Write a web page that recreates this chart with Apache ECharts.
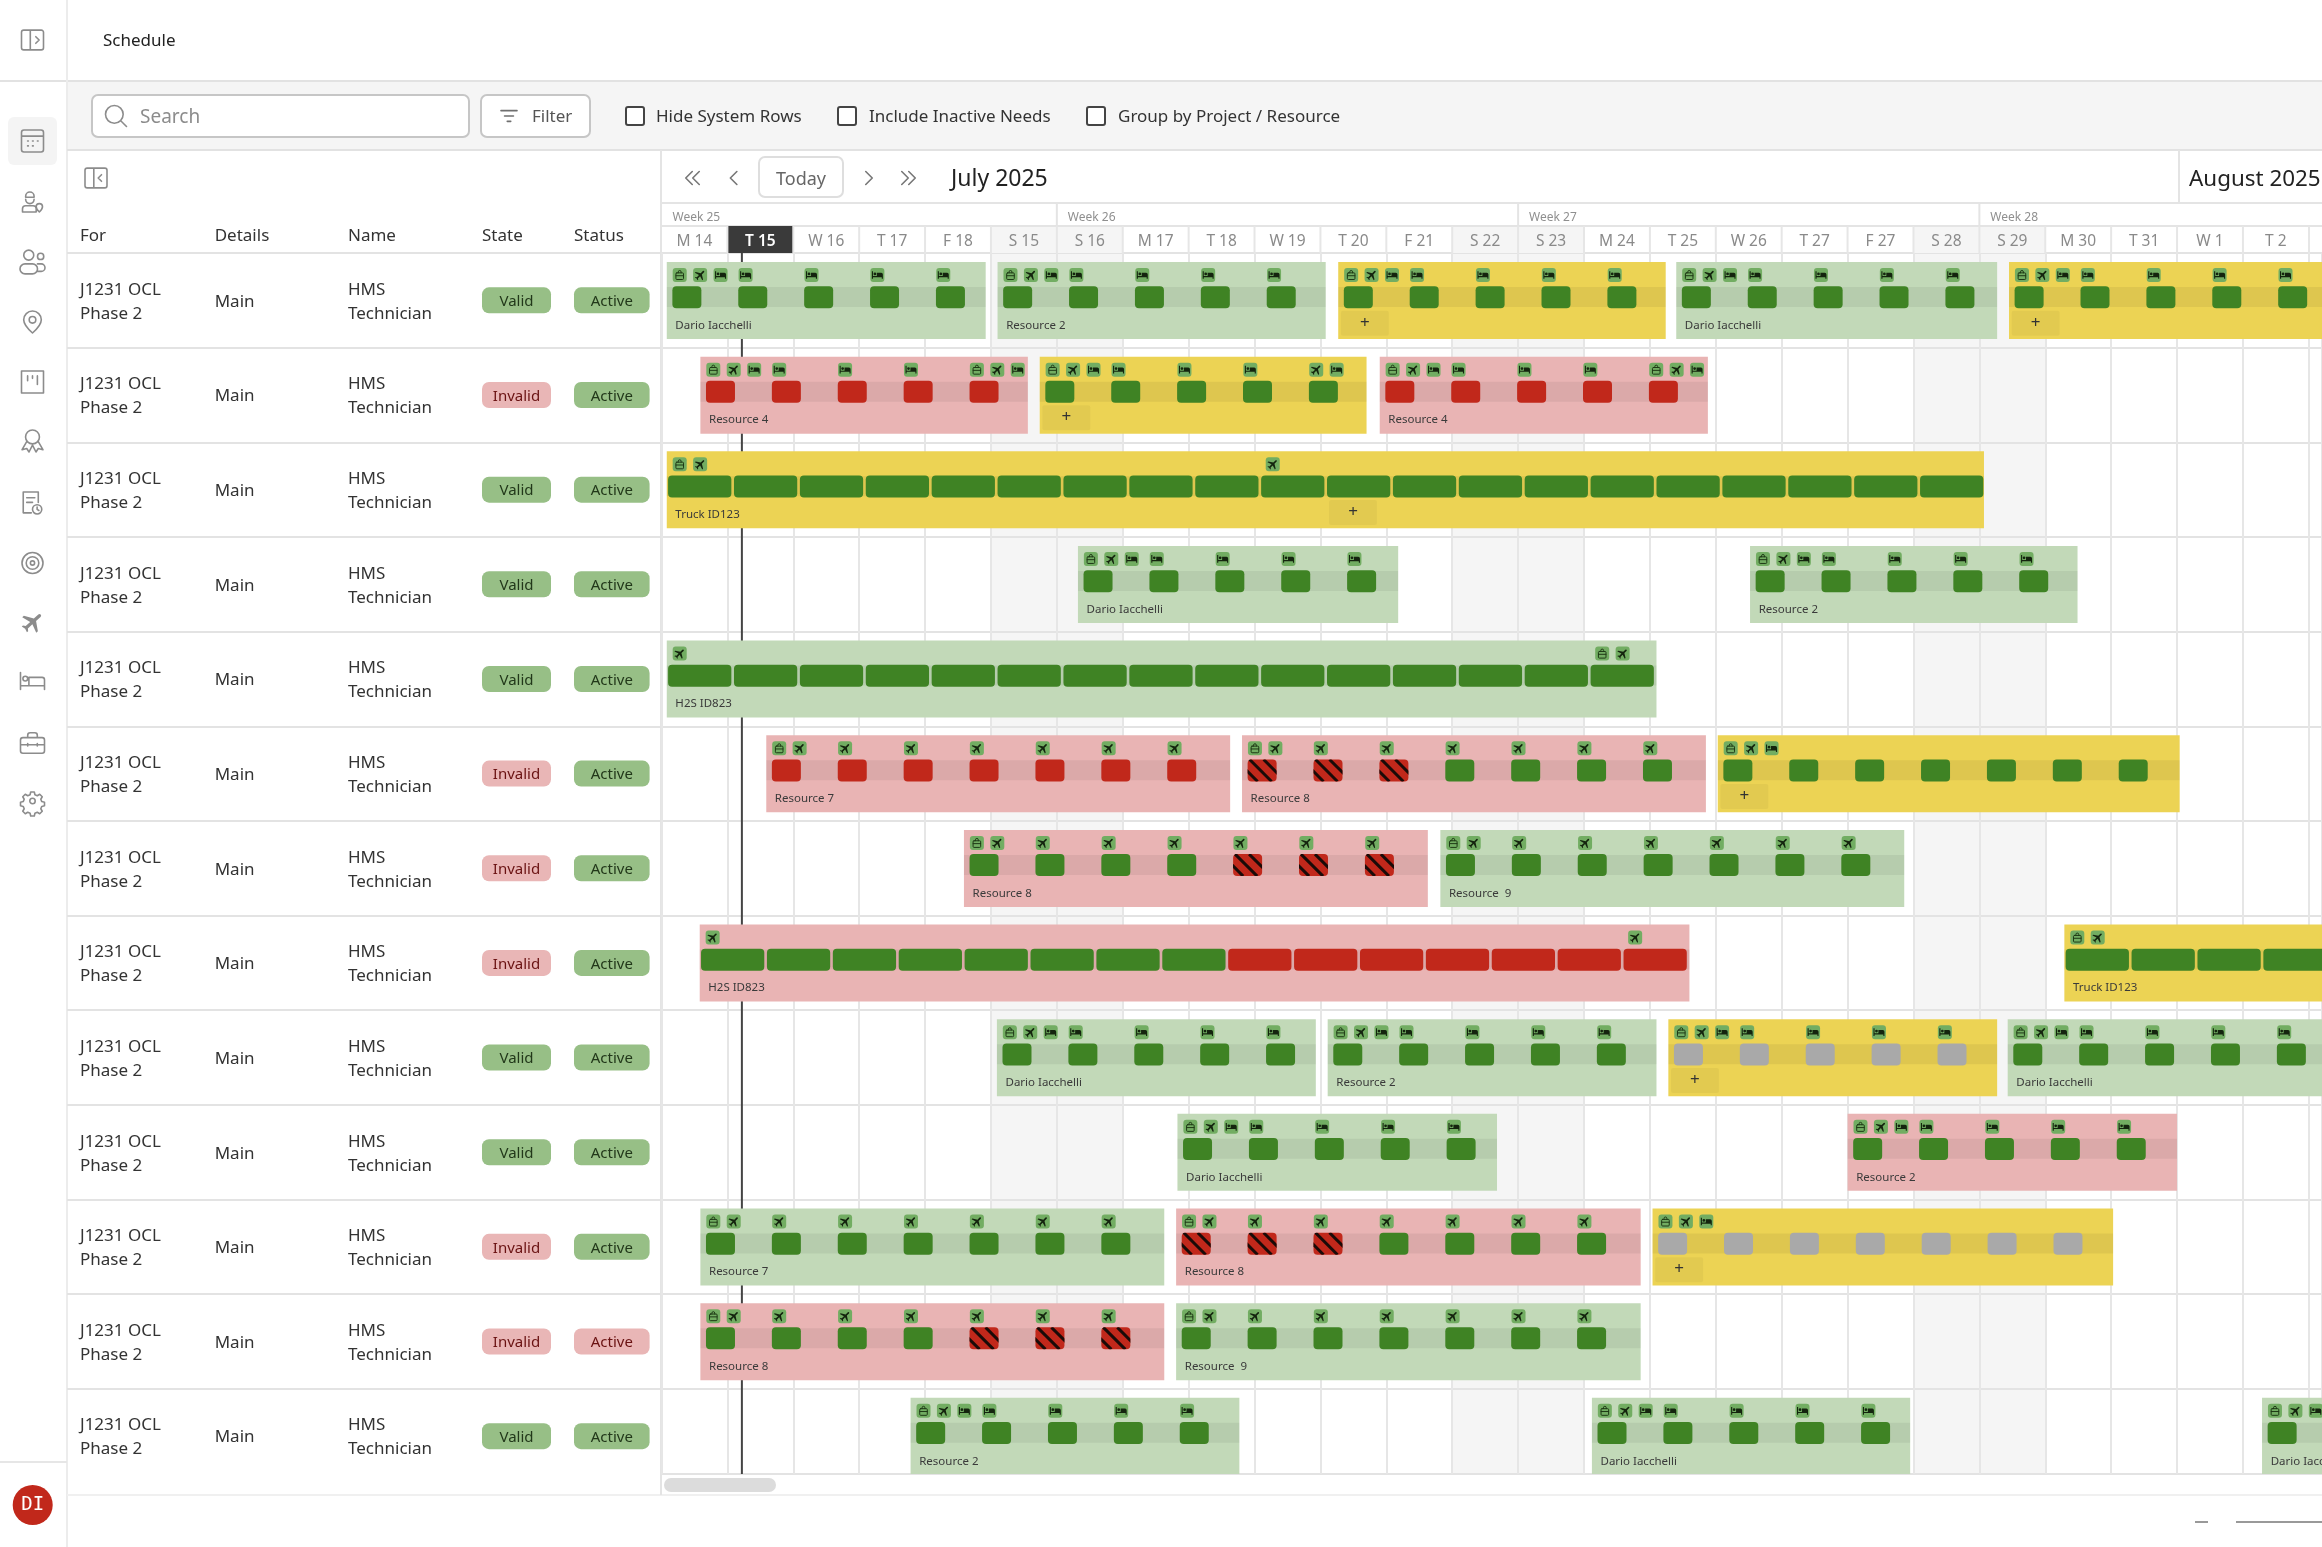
<!DOCTYPE html>
<html>
<head>
<meta charset="utf-8">
<title>Schedule</title>
<style>
  html, body { margin: 0; padding: 0; background: #fff; }
  #main { width: 2322px; height: 1547px; }
</style>
<script src="https://cdn.jsdelivr.net/npm/echarts@6/dist/echarts.min.js"></script>
</head>
<body>
<div id="main"></div>
<script>
// timeline
var dayLabels = ['M 14','T 15','W 16','T 17','F 18','S 15','S 16','M 17','T 18','W 19','T 20','F 21','S 22','S 23','M 24','T 25','W 26','T 27','F 27','S 28','S 29','M 30','T 31','W 1','T 2'];
var weekendDays = [5, 6, 12, 13, 19, 20];
var weekLabels = ['Week 25', 'Week 26', 'Week 27', 'Week 28'];
var weekStarts = [0, 6, 13, 20];
var todayIndex = 1;
var todayLine = 1.22;

// table
var tableHeaders = ['For', 'Details', 'Name', 'State', 'Status'];
var rowState = ['Valid','Invalid','Valid','Valid','Valid','Invalid','Invalid','Invalid','Valid','Valid','Invalid','Invalid','Valid'];
var rowStatus = ['Active','Active','Active','Active','Active','Active','Active','Active','Active','Active','Active','Active','Active'];
var rowStatusBad = [11];

// gantt bars, one entry per bar in all the arrays below
var barRow   = [0,0,0,0,0, 1,1,1, 2, 3,3, 4, 5,5,5, 6,6, 7,7, 8,8,8,8, 9,9, 10,10,10, 11,11, 12,12,12];
var barStart = [0.08,5.1,10.27,15.4,20.45, 0.59,5.74,10.9, 0.08, 6.32,16.52, 0.08, 1.59,8.81,16.03, 4.59,11.82, 0.58,21.29, 5.09,10.11,15.28,20.43, 7.83,18.0, 0.59,7.81,15.04, 0.59,7.81, 3.78,14.12,24.29];
var barEnd   = [4.92,10.08,15.24,20.27,25.5, 5.56,10.7,15.88, 20.07, 11.18,21.49, 15.1, 8.63,15.85,23.04, 11.63,18.86, 15.6,26.5, 9.93,15.1,20.27,25.3, 12.68,23.0, 7.63,14.86,22.03, 7.63,14.86, 8.77,18.95,29.3];
var barTone  = ['g','g','y','g','y', 'r','y','r', 'y', 'g','g', 'g', 'r','r','y', 'r','g', 'r','y', 'g','g','y','g', 'g','r', 'g','r','y', 'r','g', 'g','g','g'];
var barName  = ['Dario Iacchelli','Resource 2','','Dario Iacchelli','', 'Resource 4','','Resource 4', 'Truck ID123', 'Dario Iacchelli','Resource 2', 'H2S ID823', 'Resource 7','Resource 8','', 'Resource 8','Resource  9', 'H2S ID823','Truck ID123', 'Dario Iacchelli','Resource 2','','Dario Iacchelli', 'Dario Iacchelli','Resource 2', 'Resource 7','Resource 8','', 'Resource 8','Resource  9', 'Resource 2','Dario Iacchelli','Dario Iacchelli'];
var barAdd   = [-1,-1,0.04,-1,0.04, -1,0.04,-1, 10.05, -1,-1, -1, -1,-1,0.04, -1,-1, -1,-1, -1,-1,0.04,-1, -1,-1, -1,-1,0.04, -1,-1, -1,-1,-1];
var barLong  = [0,0,0,0,0, 0,0,0, 1, 0,0, 1, 0,0,0, 0,0, 1,1, 0,0,0,0, 0,0, 0,0,0, 0,0, 0,0,0];
// g green, r red, h hatched, s grey
var barCells = ['ggggg','ggggg','ggggg','ggggg','ggggg', 'rrrrr','ggggg','rrrrr', 'gggggggggggggggggggg', 'ggggg','ggggg', 'ggggggggggggggg', 'rrrrrrr','hhhgggg','ggggggg', 'gggghhh','ggggggg', 'ggggggggrrrrrrr','ggggg', 'ggggg','ggggg','sssss','ggggg', 'ggggg','ggggg', 'ggggggg','hhhgggg','sssssss', 'gggghhh','ggggggg', 'ggggg','ggggg','ggggg'];
// per cell, comma separated: b bag, p plane, d bed
var std5 = 'bpd,d,d,d,d', std7 = 'bp,p,p,p,p,p,p';
var barIcons = [std5,std5,std5,std5,std5, 'bpd,d,d,d,bpd','bpd,d,d,d,pd','bpd,d,d,d,bpd', 'bp,,,,,,,,,p', std5,std5, 'p,,,,,,,,,,,,,,bp', std7,std7,'bpd', std7,std7, 'p,,,,,,,,,,,,,,p','bp', std5,std5,std5,std5, std5,std5, std7,std7,'bpd', std7,std7, std5,std5,std5];

var font = '"Noto Sans", "Open Sans", sans-serif';
var toneFill = { g: '#c2d9b8', r: '#e9b4b4', y: '#ecd354' };
var cellFill = { g: '#3f8324', r: '#c1281b', h: '#c1281b', s: '#a9a9a9' };
var iconPath = {
  b: 'M9 7V5a3 3 0 0 1 6 0v2 M6 7h12a2 2 0 0 1 2 2v10a2 2 0 0 1-2 2H6a2 2 0 0 1-2-2V9a2 2 0 0 1 2-2z M4 13h16',
  p: 'M21 16v-2l-8-5V3.5a1.5 1.5 0 0 0-3 0V9l-8 5v2l8-2.5V19l-2 1.5V22l3.5-1 3.5 1v-1.5L13 19v-5.5z',
  d: 'M2 5v14h2v-3h16v3h2v-8a3 3 0 0 0-3-3h-8v6H4V5z M5 10a2.5 2.5 0 1 0 5 0a2.5 2.5 0 1 0-5 0z'
};

function txt(text, x, y, size, color, align, weight, family) {
  return { type: 'text', style: { text: text, x: x, y: y + 1.5, fontSize: size, fill: color, align: align || 'left', verticalAlign: 'middle', fontWeight: weight || 'normal', fontFamily: family || font } };
}
function box(x, y, w, h, fill, r, stroke, lw) {
  return { type: 'rect', shape: { x: x, y: y, width: w, height: h, r: r || 0 }, style: { fill: fill, stroke: stroke || null, lineWidth: lw || 0 } };
}
function seg(x1, y1, x2, y2, color, w) {
  return { type: 'line', shape: { x1: x1, y1: y1, x2: x2, y2: y2 }, style: { stroke: color, lineWidth: w || 2 } };
}
function glyph(d, cx, cy, size, opt) {
  opt = opt || {};
  var el = {
    type: 'path',
    shape: { pathData: d, layout: 'center', x: cx - size / 2, y: cy - size / 2, width: size, height: size },
    style: { fill: opt.fill || 'none', stroke: opt.stroke || null, lineWidth: opt.lw || 0, lineCap: 'round', lineJoin: 'round' }
  };
  if (opt.rot) { el.rotation = opt.rot; el.originX = cx; el.originY = cy; }
  return el;
}

var railColor = '#8c8c8c';
var railIcons = [
  ['M5 3h14a2 2 0 0 1 2 2v14a2 2 0 0 1-2 2H5a2 2 0 0 1-2-2V5a2 2 0 0 1 2-2z M3 8h18 M8 12h.6 M12 12h.6 M16 12h.6 M8 16h.6 M12 16h.6', 141, 22],
  ['M9 3a4 4 0 0 1 4 4v1H5V7a4 4 0 0 1 4-4z M5 10a4 4 0 0 0 8 0 M2 22v-3a3 3 0 0 1 3-3h7a3 3 0 0 1 3 3v3z M18 14a3 3 0 0 1 3 3c0 2-3 5-3 5s-3-3-3-5a3 3 0 0 1 3-3z', 202, 20],
  ['M5 6a4 4 0 1 0 8 0a4 4 0 1 0-8 0z M16 7a2.5 2.5 0 1 0 5 0a2.5 2.5 0 1 0-5 0z M6 13h6a4 4 0 0 1 0 8H6a4 4 0 0 1 0-8z M16 13h3a3 3 0 0 1 3 3v0a3 3 0 0 1-3 3h-3', 262, 25],
  ['M12 2a8 8 0 0 1 8 8c0 5-8 12-8 12s-8-7-8-12a8 8 0 0 1 8-8z M9 10a3 3 0 1 0 6 0a3 3 0 1 0-6 0z', 322, 22],
  ['M3 3h18v18H3z M8 7v4 M12 7v2 M16 7v7', 382, 22],
  ['M6 9a6 6 0 1 0 12 0a6 6 0 1 0-12 0z M7 13l-4 7 4-1 2 3 3-6 3 6 2-3 4 1-4-7', 441, 22],
  ['M5 21V3h13v9 M5 21h7 M8 8h7 M8 12h5 M13 18a4 4 0 1 0 8 0a4 4 0 1 0-8 0z M17 16v2l1.5 1', 503, 22],
  ['M2 12a10 10 0 1 0 20 0a10 10 0 1 0-20 0z M6 12a6 6 0 1 0 12 0a6 6 0 1 0-12 0z M10 12a2 2 0 1 0 4 0a2 2 0 1 0-4 0z', 563, 21],
  ['P', 622, 22],
  ['M2 6v14 M2 17h20v3 M22 17v-5a2 2 0 0 0-2-2H9v7 M4 11a2 2 0 1 0 4 0a2 2 0 1 0-4 0z', 681, 24],
  ['M4 8h16a2 2 0 0 1 2 2v9a2 2 0 0 1-2 2H4a2 2 0 0 1-2-2v-9a2 2 0 0 1 2-2z M8 8V6a2 2 0 0 1 2-2h4a2 2 0 0 1 2 2v2 M2 14h20 M8 13v2 M16 13v2', 743, 24],
  ['M9 12a3 3 0 1 0 6 0a3 3 0 1 0-6 0z M10 2h4l.7 3 2.6 1.1 2.7-1.6 2.8 2.8-1.6 2.7 1.1 2.6 3 .7v4l-3 .7-1.1 2.6 1.6 2.7-2.8 2.8-2.7-1.6-2.6 1.1-.7 3h-4l-.7-3-2.6-1.1-2.7 1.6-2.8-2.8 1.6-2.7-1.1-2.6-3-.7v-4l3-.7 1.1-2.6-1.6-2.7 2.8-2.8 2.7 1.6 2.6-1.1z', 804, 24]
];
var panelRight = 'M4 3h16a2 2 0 0 1 2 2v14a2 2 0 0 1-2 2H4a2 2 0 0 1-2-2V5a2 2 0 0 1 2-2z M10 3v18 M15 9l3 3-3 3';
var panelLeft = 'M4 3h16a2 2 0 0 1 2 2v14a2 2 0 0 1-2 2H4a2 2 0 0 1-2-2V5a2 2 0 0 1 2-2z M10 3v18 M17 9l-3 3 3 3';
var chevL = 'M15 5l-7 7 7 7';
var chevR = 'M9 5l7 7-7 7';

// static page furniture around the chart
function renderChrome() {
  var c = [];
  c.push(box(67, 81, 2255, 69, '#f5f5f5'));
  c.push(box(8, 117, 49, 48, '#f4f4f4', 6));
  c.push(seg(0, 81, 2322, 81, '#e2e2e2', 2));
  c.push(seg(67, 0, 67, 1547, '#ececec', 2));
  c.push(seg(67, 150, 2322, 150, '#e2e2e2', 2));
  c.push(seg(0, 1462, 67, 1462, '#e6e6e6', 2));
  c.push(seg(67, 1495, 2322, 1495, '#f0f0f0', 2));
  c.push(seg(661, 150, 661, 1495, '#e4e4e4', 2));
  c.push(seg(662, 203, 2322, 203, '#e4e4e4', 2));
  c.push(seg(2179, 150, 2179, 203, '#e4e4e4', 2));
  c.push(glyph(panelRight, 32.5, 40, 22, { stroke: railColor, lw: 1.6 }));
  c.push(glyph(panelLeft, 96, 178, 22, { stroke: railColor, lw: 1.6 }));
  railIcons.forEach(function (ic) {
    if (ic[0] === 'P') c.push(glyph(iconPath.p, 32.5, ic[1], ic[2], { fill: railColor, rot: -Math.PI / 4 - 0.05 }));
    else c.push(glyph(ic[0], 32.5, ic[1], ic[2], { stroke: railColor, lw: 1.6 }));
  });
  c.push({ type: 'circle', shape: { cx: 32.7, cy: 1505, r: 20 }, style: { fill: '#c1281b' } });
  c.push(txt('DI', 32.7, 1504, 19, '#ffffff', 'center', 'normal', '"DejaVu Sans Mono", monospace'));

  c.push(txt('Schedule', 103, 40, 17, '#222222'));
  c.push(box(92, 95, 377, 42, '#ffffff', 6, '#c6c6c6', 2));
  c.push(glyph('M3 11a8 8 0 1 0 16 0a8 8 0 1 0-16 0z M17 17l5 5', 116, 116, 21, { stroke: '#8c8c8c', lw: 1.6 }));
  c.push(txt('Search', 140, 116, 19, '#8c8c8c'));
  c.push(box(481, 95, 109, 42, '#ffffff', 6, '#c6c6c6', 2));
  c.push(glyph('M3 6h18 M7 12h10 M10 18h4', 509, 116, 16, { stroke: '#6f6f6f', lw: 1.6 }));
  c.push(txt('Filter', 532, 116, 17, '#555555'));
  [[625, 'Hide System Rows', 656], [837, 'Include Inactive Needs', 869], [1086, 'Group by Project / Resource', 1118]].forEach(function (k) {
    c.push(box(k[0] + 1, 107, 18, 18, '#ffffff', 2, '#444444', 2));
    c.push(txt(k[1], k[2], 116, 17, '#333333'));
  });

  var nav = { stroke: '#777777', lw: 1.6 };
  c.push(glyph(chevL, 689, 178, 13, nav));
  c.push(glyph(chevL, 696, 178, 13, nav));
  c.push(glyph(chevL, 733.6, 178, 13, nav));
  c.push(box(759, 157, 84, 40, '#ffffff', 6, '#dedede', 2));
  c.push(txt('Today', 801, 178, 18, '#666666', 'center'));
  c.push(glyph(chevR, 869, 178, 13, nav));
  c.push(glyph(chevR, 905, 178, 13, nav));
  c.push(glyph(chevR, 912, 178, 13, nav));
  c.push(txt('July 2025', 951, 178, 23, '#222222'));
  c.push(txt('August 2025', 2189, 178, 22.4, '#222222'));

  c.push(box(664, 1478, 112, 14, '#dcdcdc', 7));
  c.push(seg(2195, 1522, 2208, 1522, '#999999', 2));
  c.push(seg(2236, 1522, 2322, 1522, '#999999', 2));
  return { type: 'group', children: c };
}

function renderWeekend(params, api) {
  var a = api.coord([api.value(0), 0]);
  var b = api.size([1, 0]);
  return box(a[0], a[1], b[0], 1300, '#f5f5f5');
}

function renderHeader(params, api) {
  var kids = [];
  var y0 = api.coord([0, 0])[1];
  var w = api.size([1, 0])[0];
  weekendDays.forEach(function (d) { kids.push(box(api.coord([d, 0])[0], y0 - 27, w, 27, '#f5f5f5')); });
  kids.push(seg(662, y0 - 27, 2322, y0 - 27, '#e4e4e4', 2));
  dayLabels.forEach(function (label, i) {
    var x = api.coord([i, 0])[0];
    if (i === todayIndex) kids.push(box(x, y0 - 27, w, 27, '#3a3a3a'));
    if (i > 0) kids.push(seg(x, y0 - 27, x, y0, '#e6e6e6', 2));
    kids.push(txt(label, x + w / 2, y0 - 13, 15.5, i === todayIndex ? '#ffffff' : '#8a8a8a', 'center', i === todayIndex ? 600 : 'normal'));
  });
  weekLabels.forEach(function (label, i) {
    var x = api.coord([weekStarts[i], 0])[0];
    if (i > 0) kids.push(seg(x, y0 - 50, x, y0 - 27, '#e4e4e4', 2));
    kids.push(txt(label, x + 11, y0 - 37, 12, '#8f8f8f'));
  });
  kids.push(seg(2309, y0 - 27, 2309, y0, '#e6e6e6', 2));
  return { type: 'group', children: kids };
}

function renderToday(params, api) {
  var a = api.coord([api.value(0), 0]);
  var b = api.coord([api.value(0), 12.9]);
  return seg(a[0], a[1], b[0], b[1], '#444444', 2);
}

function renderBar(params, api) {
  var i = api.value(3);
  var s = api.coord([barStart[i], barRow[i]]);
  var e = api.coord([barEnd[i], barRow[i]]);
  var day = api.size([1, 0])[0];
  var top = s[1] + 9;
  var kids = [box(s[0], top, e[0] - s[0], 77, toneFill[barTone[i]])];
  kids.push(box(s[0], top + 25, e[0] - s[0], 20, 'rgba(0,0,0,0.06)'));

  barCells[i].split('').forEach(function (c, k) {
    var x = barLong[i] ? s[0] + 0.02 * day + k * day : s[0] + 0.085 * day + k * day;
    var w = barLong[i] ? 0.96 * day : 0.44 * day;
    if (barLong[i] && x + w > e[0]) w = e[0] - x;
    kids.push(box(x, top + 24.2, w, 22, cellFill[c], 4));
    if (c === 'h') {
      var hatch = [];
      [-12, 2, 16].forEach(function (o) { hatch.push(seg(x + o, top + 24.2, x + o + 22, top + 46.2, '#1a0b08', 3)); });
      kids.push({ type: 'group', children: hatch, clipPath: { type: 'rect', shape: { x: x, y: top + 24.2, width: w, height: 22 } } });
    }
  });

  barIcons[i].split(',').forEach(function (group, k) {
    group.split('').forEach(function (ch, n) {
      var x = s[0] + 0.09 * day + k * day + n * 0.31 * day;
      kids.push(box(x, top + 6, 14, 14, '#72ad62', 3));
      if (ch === 'b') kids.push(glyph(iconPath.b, x + 7, top + 13, 9, { stroke: '#1f3a16', lw: 1 }));
      else if (ch === 'p') kids.push(glyph(iconPath.p, x + 7, top + 13, 11, { fill: '#14240e', rot: -Math.PI / 4 }));
      else kids.push(glyph(iconPath.d, x + 7, top + 13, 11, { fill: '#14240e' }));
    });
  });

  if (barName[i]) kids.push(txt(barName[i], s[0] + 8.6, top + 62, 11.5, '#3a3a3a'));
  if (barAdd[i] >= 0) {
    var ax = s[0] + barAdd[i] * day;
    kids.push(box(ax, top + 48.7, 48, 25, 'rgba(0,0,0,0.04)', 2));
    kids.push(txt('+', ax + 24, top + 59.5, 17, '#333333', 'center'));
  }
  return { type: 'group', children: kids };
}

var colX = [13, 147.7, 281, 415, 507];
var pillW = [69, 75.6];
function pill(label, x, y, w, bad) {
  return [
    box(x, y - 13, w, 26, bad ? '#e9b6b6' : '#97bf86', 7),
    txt(label, x + w / 2, y, 15, bad ? '#6a1212' : '#22381a', 'center')
  ];
}
function renderTableRow(params, api) {
  var r = api.value(1);
  var y = api.coord([0, r + 0.5])[1];
  var kids = [];
  kids.push(txt('J1231 OCL', api.coord([colX[0], 0])[0], y - 12, 17, '#333333'));
  kids.push(txt('Phase 2', api.coord([colX[0], 0])[0], y + 12, 17, '#333333'));
  kids.push(txt('Main', api.coord([colX[1], 0])[0], y, 17, '#333333'));
  kids.push(txt('HMS', api.coord([colX[2], 0])[0], y - 12, 17, '#333333'));
  kids.push(txt('Technician', api.coord([colX[2], 0])[0], y + 12, 17, '#333333'));
  kids = kids.concat(pill(rowState[r], api.coord([colX[3], 0])[0], y, pillW[0], rowState[r] === 'Invalid'));
  kids = kids.concat(pill(rowStatus[r], api.coord([colX[4], 0])[0], y, pillW[1], rowStatusBad.indexOf(r) >= 0));
  return { type: 'group', children: kids };
}
function renderTableHead(params, api) {
  var i = api.value(0);
  return txt(tableHeaders[i], api.coord([colX[i], 0])[0], api.coord([0, 0])[1] - 18, 17, '#333333');
}

var myChart = echarts.init(document.getElementById('main'));
var hiddenAxis = { axisLine: { show: false }, axisTick: { show: false }, axisLabel: { show: false } };
var option = {
  animation: false,
  backgroundColor: '#ffffff',
  tooltip: { show: false },
  grid: [
    { left: 661.5, top: 253, right: 0, height: 1221 },
    { left: 67, top: 253, width: 594, height: 1221 }
  ],
  xAxis: [
    Object.assign({ type: 'value', gridIndex: 0, min: 0, max: 25.2, interval: 1, position: 'top', splitLine: { show: true, lineStyle: { color: '#e6e6e6', width: 2 } } }, hiddenAxis),
    Object.assign({ type: 'value', gridIndex: 1, min: 0, max: 594, splitLine: { show: false } }, hiddenAxis)
  ],
  yAxis: [
    Object.assign({ type: 'value', gridIndex: 0, min: 0, max: 12.9, interval: 1, inverse: true, splitLine: { show: true, lineStyle: { color: '#e3e3e3', width: 2 } } }, hiddenAxis),
    Object.assign({ type: 'value', gridIndex: 1, min: 0, max: 12.9, interval: 1, inverse: true, splitLine: { show: true, showMaxLine: false, lineStyle: { color: '#e3e3e3', width: 2 } } }, hiddenAxis)
  ],
  series: [
    { type: 'custom', coordinateSystem: 'none', z: -2, silent: true, data: [0], renderItem: renderChrome },
    { type: 'custom', xAxisIndex: 0, yAxisIndex: 0, z: -1, silent: true, clip: true, data: weekendDays.map(function (d) { return [d, 0]; }), renderItem: renderWeekend },
    { type: 'custom', xAxisIndex: 0, yAxisIndex: 0, z: 1, silent: true, data: [[0, 0]], renderItem: renderHeader },
    { type: 'custom', xAxisIndex: 0, yAxisIndex: 0, z: 2, silent: true, data: [[todayLine, 0]], renderItem: renderToday },
    { type: 'custom', xAxisIndex: 0, yAxisIndex: 0, z: 3, silent: true, clip: true, renderItem: renderBar,
      data: barRow.map(function (r, i) { return [barStart[i], r, barEnd[i], i]; }) },
    { type: 'custom', xAxisIndex: 1, yAxisIndex: 1, z: 3, silent: true, renderItem: renderTableRow,
      data: rowState.map(function (s, r) { return [0, r]; }) },
    { type: 'custom', xAxisIndex: 1, yAxisIndex: 1, z: 3, silent: true, renderItem: renderTableHead,
      data: tableHeaders.map(function (h, i) { return [i, 0]; }) }
  ]
};
myChart.setOption(option);
</script>
</body>
</html>
